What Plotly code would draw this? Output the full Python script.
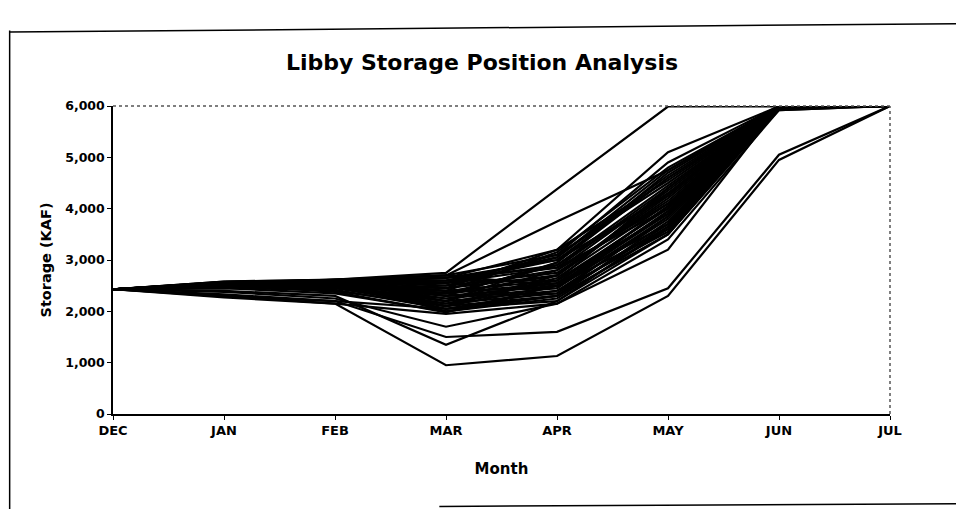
import plotly.graph_objects as go

months = ["DEC", "JAN", "FEB", "MAR", "APR", "MAY", "JUN", "JUL"]

# storage (KAF) per simulated year, DEC..JUL
low_years = [
    [2430, 2300, 2150, 950, 1130, 2300, 4950, 6000],
    [2430, 2330, 2200, 1500, 1600, 2450, 5050, 6000],
]
high_years = [
    [2430, 2500, 2620, 2750, 4380, 5990, 5990, 6000],
    [2430, 2520, 2600, 2700, 3750, 4750, 5990, 6000],
    [2430, 2550, 2610, 2650, 3200, 5100, 5990, 6000],
]
odd_years = [
    [2430, 2400, 2300, 1350, 2200, 3500, 5990, 6000],
    [2430, 2380, 2250, 1700, 2150, 3200, 5990, 6000],
    [2430, 2270, 2150, 1950, 2150, 3400, 5920, 6000],
    [2430, 2450, 2350, 2000, 2250, 3600, 5990, 6000],
    [2430, 2520, 2380, 1980, 2500, 4050, 5990, 6000],
    [2430, 2290, 2200, 2050, 2300, 3500, 5950, 6000],
]
typical_years = [
    [2430, 2480, 2450, 2100, 2300, 3700, 6000, 6000],
    [2430, 2500, 2500, 2200, 2400, 3800, 5990, 6000],
    [2430, 2520, 2550, 2300, 2500, 3900, 6000, 6000],
    [2430, 2540, 2580, 2400, 2600, 4000, 5980, 6000],
    [2430, 2560, 2600, 2500, 2750, 4150, 6000, 6000],
    [2430, 2580, 2620, 2600, 2900, 4300, 5990, 6000],
    [2430, 2570, 2610, 2700, 3100, 4500, 6000, 6000],
    [2430, 2550, 2590, 2650, 3000, 4600, 5990, 6000],
    [2430, 2530, 2570, 2550, 2850, 4400, 6000, 6000],
    [2430, 2510, 2540, 2450, 2700, 4200, 5980, 6000],
    [2430, 2490, 2520, 2350, 2550, 4050, 6000, 6000],
    [2430, 2470, 2480, 2250, 2450, 3950, 5990, 6000],
    [2430, 2460, 2460, 2150, 2350, 3850, 6000, 6000],
    [2430, 2500, 2530, 2050, 2200, 3650, 5920, 6000],
    [2430, 2520, 2560, 2100, 2650, 4100, 6000, 6000],
    [2430, 2540, 2590, 2200, 2800, 4350, 5990, 6000],
    [2430, 2560, 2600, 2300, 2950, 4700, 6000, 6000],
    [2430, 2500, 2480, 2400, 3150, 4800, 5990, 6000],
    [2430, 2480, 2440, 2500, 3050, 4650, 6000, 6000],
    [2430, 2510, 2560, 2600, 2600, 3900, 5980, 6000],
    [2430, 2530, 2600, 2000, 2300, 3750, 6000, 6000],
    [2430, 2550, 2620, 2700, 2500, 3600, 5990, 6000],
    [2430, 2490, 2400, 2100, 2700, 4250, 6000, 6000],
    [2430, 2470, 2500, 2350, 2900, 4450, 5990, 6000],
    [2430, 2560, 2600, 2550, 3100, 4900, 6000, 6000],
    [2430, 2450, 2420, 2050, 2400, 3550, 5990, 6000],
    [2430, 2580, 2610, 2450, 3200, 4550, 6000, 6000],
    [2430, 2520, 2500, 2150, 2600, 4400, 5990, 6000],
    [2430, 2540, 2570, 2250, 2550, 3700, 6000, 6000],
    [2430, 2500, 2520, 2450, 2800, 4100, 5990, 6000],
    [2430, 2560, 2590, 2350, 2700, 4300, 6000, 6000],
    [2430, 2480, 2470, 2200, 2950, 4600, 5980, 6000],
    [2430, 2510, 2530, 2550, 3000, 4250, 6000, 6000],
    [2430, 2530, 2550, 2650, 2850, 4000, 5990, 6000],
    [2430, 2570, 2600, 2400, 2450, 3850, 6000, 6000],
    [2430, 2490, 2500, 2300, 2350, 3650, 5990, 6000],
    [2430, 2550, 2580, 2600, 3050, 4750, 6000, 6000],
    [2430, 2520, 2540, 2100, 2500, 3950, 5980, 6000],
]

all_years = low_years + high_years + odd_years + typical_years

fig = go.Figure()
for yr in all_years:
    fig.add_trace(go.Scatter(x=months, y=yr, mode="lines",
                             line=dict(color="black", width=2.2),
                             showlegend=False, hoverinfo="skip"))

font = "DejaVu Sans, Verdana, sans-serif"

# outer frame and dotted top/right plot edges
shapes = [
    dict(type="line", xref="paper", yref="paper", x0=-0.133, x1=-0.133, y0=-0.31, y1=1.245,
         line=dict(color="black", width=1.5)),
    dict(type="line", xref="paper", yref="paper", x0=-0.133, x1=1.2, y0=1.24, y1=1.27,
         line=dict(color="black", width=1.5)),
    dict(type="line", xref="paper", yref="paper", x0=0.42, x1=1.2, y0=-0.30, y1=-0.29,
         line=dict(color="black", width=1.5)),
    dict(type="line", xref="paper", yref="paper", x0=0, x1=1, y0=1, y1=1,
         line=dict(color="#555555", width=1.5, dash="dot")),
    dict(type="line", xref="paper", yref="paper", x0=1, x1=1, y0=0, y1=1,
         line=dict(color="#555555", width=1.5, dash="dot")),
]

fig.update_layout(
    width=948, height=501,
    paper_bgcolor="white", plot_bgcolor="white",
    margin=dict(l=105, r=66, t=98, b=95),
    title=dict(text="<b>Libby Storage Position Analysis</b>", x=0.5, xanchor="center",
               y=1 - 54 / 501, yanchor="middle", yref="container",
               font=dict(family=font, size=22, color="black")),
    shapes=shapes,
    font=dict(family=font, color="black"),
)
fig.update_xaxes(
    type="category", range=[0, 7], showgrid=False, zeroline=False,
    showline=True, linecolor="black", linewidth=1.5,
    ticks="outside", ticklen=4, tickcolor="black",
    tickfont=dict(family=font, size=13, color="black", weight="bold"),
    title=dict(text="<b>Month</b>", font=dict(family=font, size=15), standoff=26),
)
fig.update_yaxes(
    range=[0, 6000], dtick=1000, tickformat=",d", showgrid=False, zeroline=False,
    showline=True, linecolor="black", linewidth=1.5,
    ticks="outside", ticklen=4, tickcolor="black",
    tickfont=dict(family=font, size=12.5, color="black", weight="bold"),
    title=dict(text="<b>Storage (KAF)</b>", font=dict(family=font, size=14.5), standoff=10),
)

fig.write_html("out.html")
